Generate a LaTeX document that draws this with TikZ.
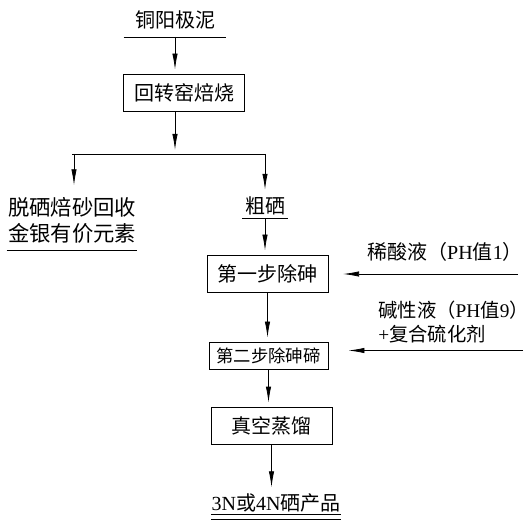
\documentclass[tikz,border=0pt]{standalone}
\usepackage{fontspec}
\setmainfont{Noto Sans CJK SC}
\newfontfamily\latin{Liberation Serif}
\usepackage{tikz}
\usetikzlibrary{arrows.meta,positioning}

\begin{document}
\begin{tikzpicture}[x=0.75pt,y=-0.75pt,line width=0.6pt,
  box/.style={draw,minimum width=90.75pt,minimum height=27.75pt,font=\fontsize{15}{18}\selectfont},
  word/.style={font=\fontsize{15}{18}\selectfont},
  flow/.style={-{Latex[length=12pt,width=4pt]}}]
\tikzstyle{every node}+=[inner sep=0pt]
\useasboundingbox (0,0) rectangle (532,527);
% raw material and roasting
\node [word,minimum width=76.5pt,inner ysep=5.5pt] (anode) at (175,20) {铜阳极泥};
\draw (anode.south west) -- (anode.south east);
\node [box] (kiln) at (184,92.5) {回转窑焙烧};
\draw [flow,shorten >=3pt] (anode.south) -- (anode.south |- kiln.north);
\coordinate (split) at (175,154);
\draw [flow,shorten >=3pt] (anode.south |- kiln.south) -- (split);
% two outputs of roasting
\node [word,align=center,font=\fontsize{16}{19.5}\selectfont,minimum width=97.5pt,inner ysep=5.5pt] (calcine) at (72,220) {脱硒焙砂回收\\金银有价元素};
\draw (calcine.south west) -- (calcine.south east);
\node [word,minimum width=33.75pt,inner ysep=2pt] (crude) at (265,206) {粗硒};
\draw (crude.south west) -- (crude.south east);
\draw (split -| calcine) -- (split -| crude);
\draw [flow,shorten >=3pt] (split -| 74,0) -- (74,0 |- calcine.north);
\draw [flow,shorten >=3pt] (split -| crude) -- (crude.north);
% purification steps
\node [box] (step1) at (267.5,273.5) {第一步除砷};
\node [box,minimum width=89.25pt,minimum height=20.25pt,font=\fontsize{13}{16}\selectfont] (step2) at (268.5,355.5) {第二步除砷碲};
\node [box] (step3) at (271.5,425.5) {真空蒸馏};
\draw [flow,shorten >=3pt] (crude.south) -- (crude.south |- step1.north);
\draw [flow,shorten >=3pt] (step1.south) -- (step1.south |- step2.north);
\draw [flow,shorten >=3pt] (step2.south) -- (step2.south |- step3.north);
% reagents
\node [word] (acid) at (445,252) {稀酸液（{\latin PH}值{\latin 1}）};
\coordinate (acidin) at (518,274);
\draw [flow,shorten >=11pt] (acidin) -- (acidin -| step1.east);
\node [word,font=\fontsize{14.5}{18}\selectfont,align=left,anchor=west] (alkali) at (378,322) {碱性液（{\latin PH}值{\latin 9}）\\{\latin +}复合硫化剂};
\coordinate (alkin) at (523,350.5);
\draw [flow,shorten >=15pt] (alkin) -- (alkin -| step2.east);
% product
\node [word,minimum width=95.25pt,inner ysep=1.5pt] (product) at (276,503) {{\latin 3N}或{\latin 4N}硒产品};
\draw (product.south west) -- (product.south east);
\draw ([yshift=-3.75pt]product.south west) -- ([yshift=-3.75pt]product.south east);
\draw [flow,shorten >=3pt] (step3.south) -- (step3.south |- product.north);
\end{tikzpicture}
\end{document}
